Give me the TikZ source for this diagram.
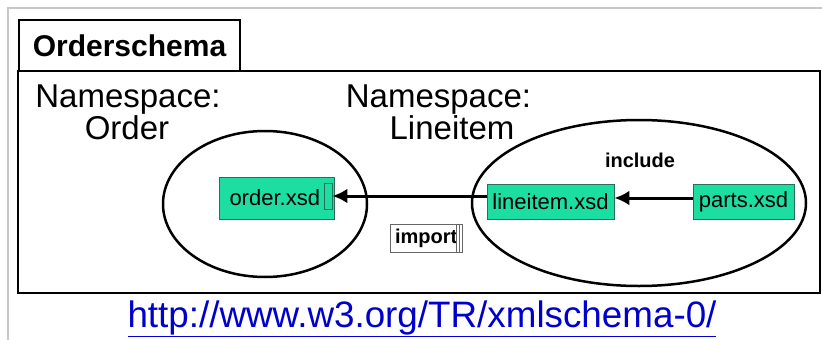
\documentclass[tikz,border=0pt]{standalone}
\usepackage{fontspec}
\setmainfont{Liberation Sans}
\usetikzlibrary{arrows.meta,positioning}
\definecolor{xsdgreen}{RGB}{28,222,160}
\definecolor{xsdedge}{RGB}{40,110,90}
\definecolor{linkblue}{RGB}{0,0,204}
\definecolor{pagegray}{RGB}{200,200,200}

\tikzset{
  nslabel/.style={font=\fontsize{33}{32}\selectfont, inner sep=0pt, anchor=base},
  xsdfile/.style={draw=xsdedge, fill=xsdgreen, line width=0.8pt, inner sep=0pt,
    font=\fontsize{22}{24}\selectfont, minimum height=35pt},
  kw/.style={font=\bfseries\fontsize{20}{22}\selectfont, inner sep=0pt},
  dep/.style={-{Latex[length=15pt,width=15pt]}, line width=3pt},
}

\begin{document}
\begin{tikzpicture}[x=1pt, y=-1pt]
  \useasboundingbox (0,0) rectangle (822,340);

  % page edge
  \draw[pagegray, line width=1.5pt] (8,340) -- (8,8) -- (822,8);

  % schema frame with its title tab
  \draw[line width=2pt] (18,71) rectangle (820,293);
  \node[draw, line width=1.5pt, minimum width=221pt, minimum height=51pt, inner sep=0pt,
        font=\bfseries\fontsize{30}{32}\selectfont] (title) at (129.5,45.5) {Orderschema};

  % namespaces
  \node[nslabel] (nsorder) at (128,107) {Namespace:};
  \node[nslabel] (nsorderval) at (127,139) {Order};
  \node[nslabel] (nsline) at (438.5,107) {Namespace:};
  \node[nslabel] (nslineval) at (452,139) {Lineitem};

  \draw[line width=2.5pt] (265,204) ellipse [x radius=102, y radius=73];
  \draw[line width=2.5pt] (639,203) ellipse [x radius=167, y radius=83];

  % schema files
  \node[xsdfile, minimum width=115pt, minimum height=42pt, text width=104pt, align=left]
    (order) at (276.5,198) {\hspace*{5pt}order.xsd};
  \node[draw=xsdedge, line width=0.8pt, minimum width=8pt, minimum height=26pt, inner sep=0pt]
    (orderend) at (328,196) {};
  \node[xsdfile, minimum width=127pt] (lineitem) at (550.5,201.5) {lineitem.xsd};
  \node[xsdfile, minimum width=101pt] (parts) at (743.5,201.5) {parts.xsd};

  \node[kw, anchor=base] (incl) at (640,167) {include};
  \node[kw, draw=black!60, line width=0.8pt, minimum width=72pt, minimum height=28pt,
        text width=66pt, align=left] (imp) at (426,238) {\hspace*{2pt}import};
  \draw[black!60, line width=0.8pt] ([xshift=-6pt]imp.north east) -- ([xshift=-6pt]imp.south east);
  \draw[black!60, line width=0.8pt] ([xshift=-3pt]imp.north east) -- ([xshift=-3pt]imp.south east);

  \draw[dep] (lineitem.west |- orderend.east) -- (orderend.east);
  \draw[dep] ([yshift=3.5pt]parts.west) -- ([yshift=3.5pt]lineitem.east);

  \node[anchor=base, inner sep=0pt, text=linkblue, font=\fontsize{36.8}{38}\selectfont]
    (url) at (422,327) {\underline{http://www.w3.org/TR/xmlschema-0/}};
\end{tikzpicture}
\end{document}
